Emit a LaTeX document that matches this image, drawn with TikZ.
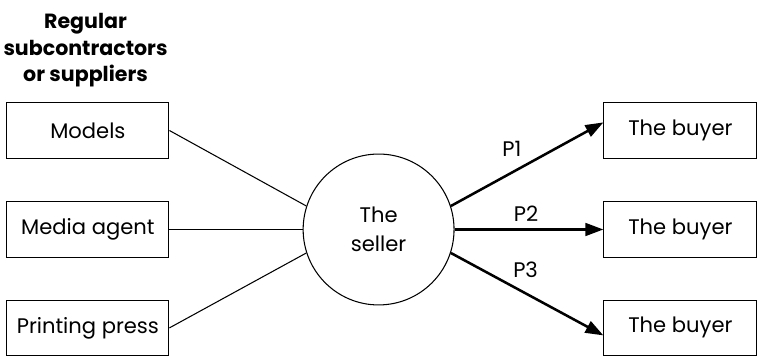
\documentclass[tikz,border=0pt]{standalone}
\usepackage{fontspec}
\setmainfont{Poppins}
\usetikzlibrary{arrows.meta}
\usetikzlibrary{calc}

\begin{document}
\begin{tikzpicture}[firm/.style={draw, line width=1pt, minimum width=5.4cm, minimum height=1.85cm, inner sep=0},
  trade/.style={line width=2.4pt, -{Triangle[length=17pt, width=12pt]}},
  font=\fontsize{20}{24}\selectfont]

\useasboundingbox (0,0) rectangle (25.3,11.9);

\node[align=center, font=\fontsize{19.5}{25}\selectfont\bfseries] (title) at (2.85,10.22) {Regular\\subcontractors\\or suppliers};

\node[firm] (s1) at (2.93,7.55) {Models};
\node[firm] (s2) at (2.93,4.25) {Media agent};
\node[firm] (s3) at (2.93,0.97) {Printing press};

\node[draw, circle, line width=1pt, minimum size=5.03cm, align=center, font=\fontsize{20}{27}\selectfont] (seller) at (12.62,4.25) {The\\seller};

\node[firm, minimum width=5.1cm] (b1) at (22.68,7.55) {The buyer};
\node[firm, minimum width=5.1cm] (b2) at (22.68,4.25) {The buyer};
\node[firm, minimum width=5.1cm] (b3) at (22.68,0.97) {The buyer};

\draw[line width=1pt] (s1.east) -- (seller.162);
\draw[line width=1pt] (s2.east) -- (seller.west);
\draw[line width=1pt] (s3.east) -- (seller.198);

\draw[trade] (seller.18) -- node[pos=.4, above=.38cm] {P1} ([yshift=.27cm]b1.west);
\draw[trade] (seller.east) -- node[pos=.48, above=.1cm] {P2} (b2.west);
\draw[trade] (seller.-18) -- node[pos=.49, above=.35cm] {P3} ([yshift=-.25cm]b3.west);

\end{tikzpicture}
\end{document}
